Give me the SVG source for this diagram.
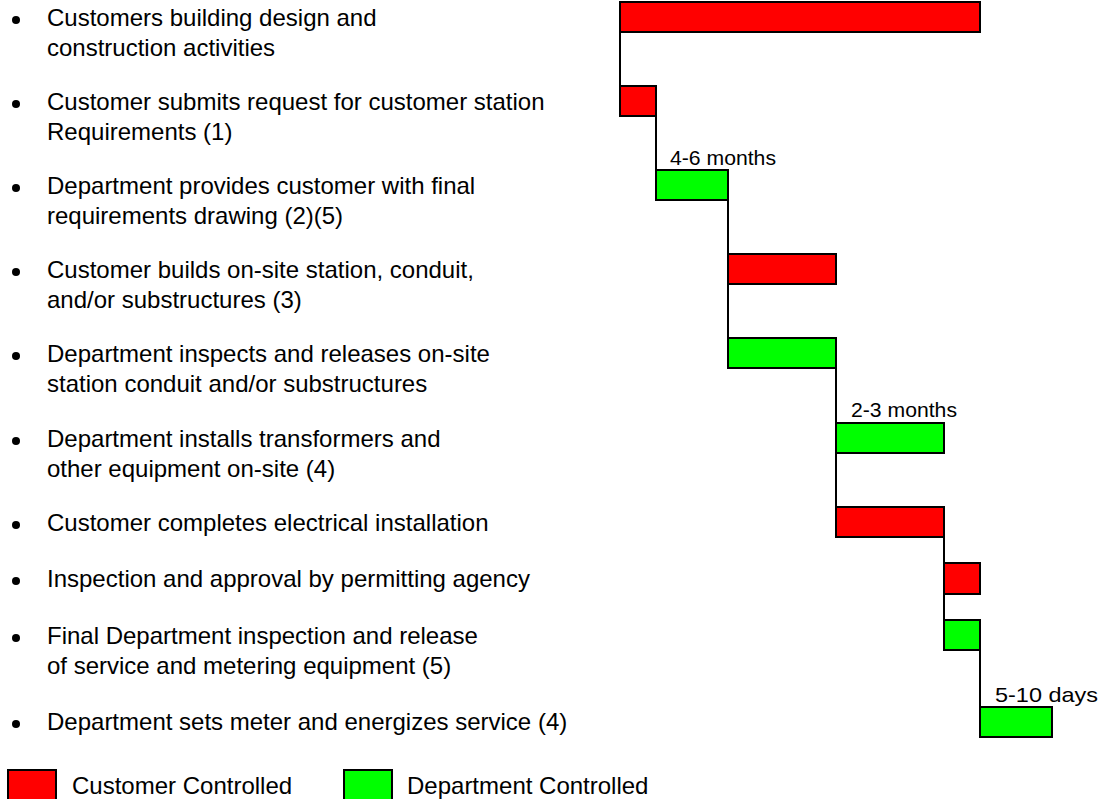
<svg xmlns="http://www.w3.org/2000/svg" width="1103" height="799" viewBox="0 0 1103 799">
<style>
  .t { font-family: "Liberation Sans", Arial, sans-serif; font-size: 24px; fill: #000; }
  .d { font-family: "Liberation Sans", Arial, sans-serif; font-size: 21px; fill: #000; }
  .cust { fill: #FF0000; stroke: #000; stroke-width: 2; }
  .dept { fill: #00FF00; stroke: #000; stroke-width: 2; }
  .bul { fill: #000; }
  .conn { fill: none; stroke: #000; stroke-width: 2; }
</style>
<rect width="1103" height="799" fill="#fff"/>
<g id="connectors">
  <path class="conn" d="M620 32 V86"/>
  <path class="conn" d="M656 116 V170"/>
  <path class="conn" d="M728 200 V338"/>
  <path class="conn" d="M836 368 V507"/>
  <path class="conn" d="M944 537 V620"/>
  <path class="conn" d="M980 650 V707"/>
</g>
<g id="row1">
  <circle class="bul" cx="16" cy="20" r="4"/>
  <text class="t" x="47" y="26">Customers building design and</text>
  <text class="t" x="47" y="56">construction activities</text>
  <rect class="cust" x="620" y="2" width="360" height="30"/>
</g>
<g id="row2">
  <circle class="bul" cx="16" cy="104" r="4"/>
  <text class="t" x="47" y="110">Customer submits request for customer station</text>
  <text class="t" x="47" y="140">Requirements (1)</text>
  <rect class="cust" x="620" y="86" width="36" height="30"/>
</g>
<g id="row3">
  <circle class="bul" cx="16" cy="188" r="4"/>
  <text class="t" x="47" y="194">Department provides customer with final</text>
  <text class="t" x="47" y="224">requirements drawing (2)(5)</text>
  <rect class="dept" x="656" y="170" width="72" height="30"/>
  <text class="d" x="670" y="165" textLength="106" lengthAdjust="spacingAndGlyphs">4-6 months</text>
</g>
<g id="row4">
  <circle class="bul" cx="16" cy="272" r="4"/>
  <text class="t" x="47" y="278">Customer builds on-site station, conduit,</text>
  <text class="t" x="47" y="308">and/or substructures (3)</text>
  <rect class="cust" x="728" y="254" width="108" height="30"/>
</g>
<g id="row5">
  <circle class="bul" cx="16" cy="356" r="4"/>
  <text class="t" x="47" y="362">Department inspects and releases on-site</text>
  <text class="t" x="47" y="392">station conduit and/or substructures</text>
  <rect class="dept" x="728" y="338" width="108" height="30"/>
</g>
<g id="row6">
  <circle class="bul" cx="16" cy="441" r="4"/>
  <text class="t" x="47" y="447">Department installs transformers and</text>
  <text class="t" x="47" y="477">other equipment on-site (4)</text>
  <rect class="dept" x="836" y="423" width="108" height="30"/>
  <text class="d" x="851" y="417" textLength="106" lengthAdjust="spacingAndGlyphs">2-3 months</text>
</g>
<g id="row7">
  <circle class="bul" cx="16" cy="525" r="4"/>
  <text class="t" x="47" y="531">Customer completes electrical installation</text>
  <rect class="cust" x="836" y="507" width="108" height="30"/>
</g>
<g id="row8">
  <circle class="bul" cx="16" cy="581" r="4"/>
  <text class="t" x="47" y="587">Inspection and approval by permitting agency</text>
  <rect class="cust" x="944" y="563" width="36" height="31"/>
</g>
<g id="row9">
  <circle class="bul" cx="16" cy="638" r="4"/>
  <text class="t" x="47" y="644">Final Department inspection and release</text>
  <text class="t" x="47" y="674">of service and metering equipment (5)</text>
  <rect class="dept" x="944" y="620" width="36" height="30"/>
</g>
<g id="row10">
  <circle class="bul" cx="16" cy="724" r="4"/>
  <text class="t" x="47" y="730">Department sets meter and energizes service (4)</text>
  <rect class="dept" x="980" y="707" width="72" height="30"/>
  <text class="d" x="995" y="702" textLength="103" lengthAdjust="spacingAndGlyphs">5-10 days</text>
</g>
<g id="legend-customer">
  <rect class="cust" x="8" y="770" width="48" height="34"/>
  <text class="t" x="72" y="794">Customer Controlled</text>
</g>
<g id="legend-department">
  <rect class="dept" x="344" y="770" width="48" height="34"/>
  <text class="t" x="407" y="794">Department Controlled</text>
</g>
</svg>
